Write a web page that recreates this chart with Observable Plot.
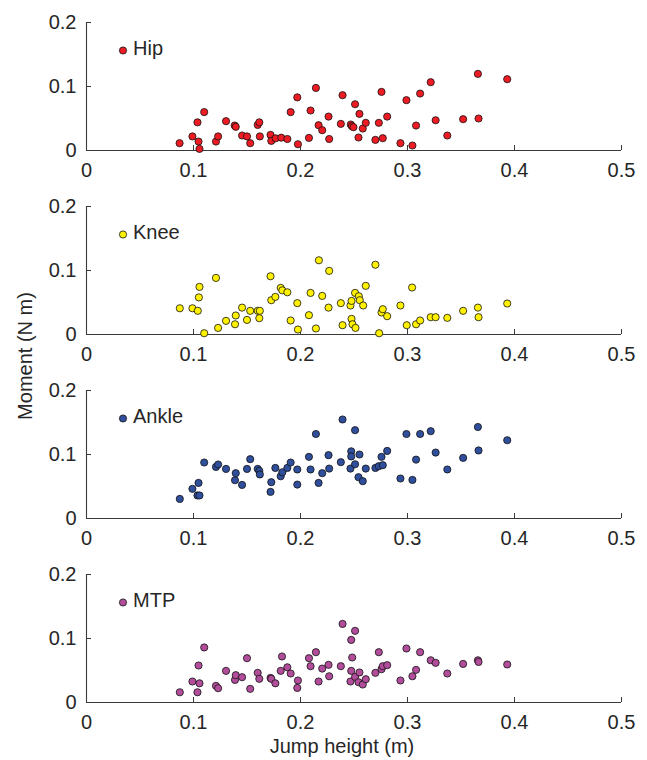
<!DOCTYPE html>
<html>
<head>
<meta charset="utf-8">
<script src="https://cdn.jsdelivr.net/npm/d3@7"></script>
<script src="https://cdn.jsdelivr.net/npm/@observablehq/plot@0.6"></script>
<style>
  html, body { margin: 0; padding: 0; background: #fff; }
  body { font-family: "Liberation Sans", Arial, Helvetica, sans-serif; }
  #wrap { position: relative; width: 647px; height: 760px; }
  #wrap svg { display: block; }
  .lab { position: absolute; font-size: 20px; line-height: 20px; color: #262626; white-space: nowrap; }
  #xlab { left: 342px; top: 736px; transform: translateX(-50%); }
  #ylab { left: 25px; top: 356px; transform: translate(-50%, -50%) rotate(-90deg); }
</style>
</head>
<body>
<div id="wrap">
  <div id="panels"></div>
  <div id="xlab" class="lab">Jump height (m)</div>
  <div id="ylab" class="lab">Moment (N m)</div>
</div>
<script>
// ---- tick values / labels ----
const xTicks = [0, 0.1, 0.2, 0.3, 0.4, 0.5];
const xTickLabels = ["0", "0.1", "0.2", "0.3", "0.4", "0.5"];
const yTicks = [0, 0.1, 0.2];
const yTickLabels = ["0", "0.1", "0.2"];

// ---- series names / colours ----
const seriesNames = ["Hip", "Knee", "Ankle", "MTP"];
const seriesColors = ["#ED1C24", "#FFF100", "#2F4E9C", "#B24D9C"];

// ---- Hip ----
const hipX = [0.087,0.099,0.1037,0.1047,0.1056,0.110,0.121,0.123,0.1304,0.1385,0.1395,0.1454,0.150,0.153,0.160,0.1615,0.162,0.172,0.1727,0.1768,0.182,0.1877,0.1908,0.197,0.1976,0.2079,0.2094,0.2144,0.2169,0.2203,0.2262,0.2268,0.2377,0.2393,0.247,0.248,0.2495,0.251,0.2542,0.2551,0.2582,0.261,0.270,0.2732,0.2757,0.2769,0.281,0.2934,0.299,0.3046,0.308,0.3118,0.3217,0.3263,0.3372,0.352,0.3658,0.3664,0.3932];
const hipY = [0.0114,0.022,0.044,0.014,0.0025,0.060,0.014,0.022,0.0458,0.039,0.037,0.0234,0.022,0.0114,0.040,0.044,0.022,0.0244,0.015,0.019,0.020,0.018,0.060,0.083,0.0098,0.0197,0.0625,0.0978,0.0395,0.0317,0.053,0.018,0.0416,0.0864,0.0406,0.038,0.0364,0.0723,0.0203,0.0572,0.0343,0.0432,0.0166,0.0432,0.0916,0.0192,0.053,0.0114,0.0786,0.0078,0.039,0.089,0.1067,0.0473,0.0234,0.0489,0.1197,0.050,0.1114];

// ---- Knee ----
const kneeX = [0.0872,0.099,0.104,0.105,0.1056,0.110,0.121,0.123,0.1304,0.1388,0.1395,0.1454,0.150,0.153,0.160,0.1615,0.162,0.172,0.1727,0.1765,0.1815,0.183,0.1877,0.1908,0.197,0.1976,0.2079,0.2094,0.2144,0.2172,0.2203,0.2262,0.2268,0.2377,0.2393,0.2467,0.2477,0.2477,0.2486,0.251,0.2514,0.2545,0.2554,0.2586,0.261,0.270,0.2735,0.2757,0.2769,0.281,0.2934,0.2993,0.3043,0.308,0.3118,0.3217,0.3263,0.3372,0.352,0.3658,0.3664,0.3932];
const kneeY = [0.041,0.041,0.037,0.058,0.0744,0.002,0.0884,0.0103,0.0213,0.016,0.0297,0.042,0.0228,0.037,0.037,0.0255,0.037,0.091,0.0536,0.0588,0.0728,0.069,0.066,0.0219,0.049,0.0078,0.0302,0.065,0.0094,0.116,0.0603,0.042,0.0994,0.049,0.0145,0.0453,0.0525,0.0244,0.016,0.065,0.0103,0.0598,0.0536,0.0453,0.076,0.109,0.002,0.0344,0.0395,0.0286,0.0453,0.0145,0.0734,0.016,0.0219,0.027,0.027,0.026,0.037,0.042,0.027,0.0484];

// ---- Ankle ----
const ankleX = [0.0872,0.099,0.1037,0.1047,0.1056,0.110,0.121,0.123,0.1304,0.1388,0.1395,0.1454,0.150,0.153,0.160,0.1615,0.162,0.172,0.1727,0.1765,0.1815,0.183,0.1877,0.1908,0.197,0.197,0.2079,0.2094,0.2144,0.2169,0.2203,0.2262,0.2268,0.2377,0.2393,0.2467,0.2474,0.2474,0.251,0.251,0.2542,0.2551,0.2582,0.261,0.270,0.2732,0.2757,0.2769,0.281,0.2934,0.299,0.3046,0.308,0.3118,0.3217,0.3263,0.3372,0.352,0.3658,0.3664,0.3932];
const ankleY = [0.0306,0.0463,0.036,0.0556,0.036,0.0875,0.0806,0.0844,0.0775,0.0598,0.0708,0.0525,0.0775,0.0927,0.0775,0.0744,0.0688,0.0416,0.0567,0.079,0.066,0.0723,0.079,0.0875,0.0766,0.053,0.0963,0.0766,0.132,0.0556,0.0708,0.099,0.078,0.088,0.1547,0.078,0.105,0.097,0.138,0.0848,0.0645,0.100,0.0583,0.078,0.079,0.0817,0.0963,0.0833,0.1056,0.0625,0.132,0.0603,0.092,0.132,0.1364,0.103,0.0766,0.0947,0.143,0.1063,0.1223];

// ---- MTP ----
const mtpX = [0.0872,0.099,0.1037,0.1047,0.1056,0.110,0.121,0.123,0.1304,0.1388,0.1395,0.1454,0.150,0.153,0.160,0.1615,0.172,0.1727,0.1765,0.1815,0.1827,0.1877,0.1908,0.197,0.1976,0.2079,0.2094,0.2144,0.2169,0.2203,0.2262,0.2268,0.2377,0.2393,0.2467,0.2474,0.2474,0.2483,0.251,0.251,0.2542,0.2551,0.2582,0.261,0.270,0.2732,0.2757,0.2769,0.281,0.2934,0.299,0.3046,0.308,0.3118,0.3217,0.3263,0.3372,0.352,0.3658,0.3664,0.3932];
const mtpY = [0.016,0.0328,0.016,0.0578,0.030,0.086,0.026,0.0223,0.0494,0.0353,0.0427,0.0395,0.0692,0.0213,0.0463,0.037,0.0384,0.037,0.030,0.0494,0.0719,0.055,0.0453,0.0228,0.0344,0.0692,0.0567,0.0786,0.0328,0.053,0.0588,0.041,0.0567,0.1228,0.0328,0.0978,0.0494,0.0703,0.112,0.040,0.0317,0.0469,0.0281,0.0364,0.0463,0.0786,0.052,0.0567,0.0583,0.0344,0.0844,0.041,0.051,0.0786,0.066,0.062,0.0453,0.0603,0.066,0.0634,0.0594];

const seriesX = [hipX, kneeX, ankleX, mtpX];
const seriesY = [hipY, kneeY, ankleY, mtpY];

const xLab = new Map(xTicks.map((t, i) => [t, xTickLabels[i]]));
const yLab = new Map(yTicks.map((t, i) => [t, yTickLabels[i]]));
const axisColor = "#3a3a3a";
const textColor = "#262626";

function panel(k) {
  const data = seriesX[k].map((x, i) => ({x, y: seriesY[k][i]}));
  const last = k === 3;
  return Plot.plot({
    width: 647,
    height: last ? 184 : 184,
    marginLeft: 86,
    marginRight: 26,
    marginTop: 22,
    marginBottom: 34,
    x: {domain: [0, 0.5]},
    y: {domain: [0, 0.2]},
    style: {
      fontFamily: '"Liberation Sans", Arial, Helvetica, sans-serif',
      fontSize: "20px",
      color: textColor,
      background: "transparent",
      overflow: "visible"
    },
    marks: [
      Plot.ruleY([0], {stroke: axisColor, strokeWidth: 1.1}),
      Plot.ruleX([0], {stroke: axisColor, strokeWidth: 1.1}),
      Plot.axisX(xTicks, {
        anchor: "bottom", tickSize: -5, tickPadding: 17,
        tickFormat: d => xLab.get(d), label: null,
        stroke: axisColor, fill: textColor, fontSize: 20
      }),
      Plot.axisY(yTicks, {
        anchor: "left", tickSize: -5, tickPadding: 15,
        tickFormat: d => yLab.get(d), label: null,
        stroke: axisColor, fill: textColor, fontSize: 20
      }),
      Plot.dot(data, {
        x: "x", y: "y", r: 3.6,
        fill: seriesColors[k], stroke: "#111", strokeWidth: 0.8
      }),
      Plot.dot([seriesNames[k]], {
        frameAnchor: "top-left", dx: 36.5, dy: 28, r: 3.6,
        fill: seriesColors[k], stroke: "#111", strokeWidth: 0.8
      }),
      Plot.text([seriesNames[k]], {
        frameAnchor: "top-left", dx: 46.5, dy: 26,
        text: d => d, textAnchor: "start", lineAnchor: "middle",
        fontSize: 20, fill: textColor
      })
    ]
  });
}

const host = document.getElementById("panels");
for (let k = 0; k < 4; k++) host.appendChild(panel(k));
</script>
</body>
</html>
